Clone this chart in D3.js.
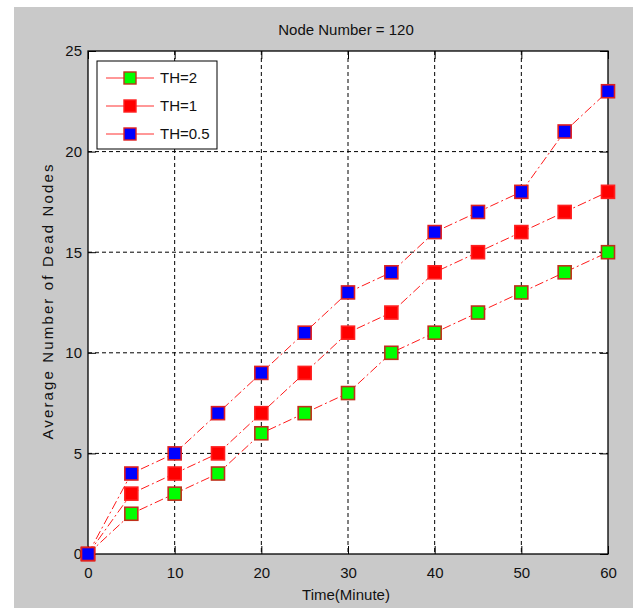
<!DOCTYPE html>
<html lang="en">
  <head>
    <meta charset="UTF-8" />
    <title>Node Number = 120</title>
    <style>
      body {
        margin: 0;
        background: white;
      }
      text {
        font-family: "Liberation Sans", Arial, sans-serif;
        font-size: 15px;
        fill: #111;
      }
      .grid-lines {
        stroke: black;
        stroke-width: 1;
        stroke-dasharray: 4, 3;
      }
      .line-path {
        fill: none;
        stroke: #ff1a1a;
        stroke-width: 1;
        stroke-dasharray: 9, 3, 2, 3;
      }
    </style>
  </head>
  <body>
    <script src="https://d3js.org/d3.v7.min.js"></script>
    <script>
      // data
      const times = [0, 5, 10, 15, 20, 25, 30, 35, 40, 45, 50, 55, 60];
      const th2 = [0, 2, 3, 4, 6, 7, 8, 10, 11, 12, 13, 14, 15];
      const th1 = [0, 3, 4, 5, 7, 9, 11, 12, 14, 15, 16, 17, 18];
      const th05 = [0, 4, 5, 7, 9, 11, 13, 14, 16, 17, 18, 21, 23];
      const seriesNames = ["TH=2", "TH=1", "TH=0.5"];
      const xTicks = [0, 10, 20, 30, 40, 50, 60];
      const yTicks = [0, 5, 10, 15, 20, 25];

      const fills = ["#00ff00", "#ff0000", "#0000ff"];
      const edges = ["#c0301a", "#ff2020", "#e02020"];

      const series = [th2, th1, th05].map((vals, i) => ({
        name: seriesNames[i],
        fill: fills[i],
        edge: edges[i],
        values: vals.map((v, j) => ({ t: times[j], v })),
      }));

      const W = 639;
      const H = 608;
      const plot = { left: 88, right: 608, top: 51, bottom: 554 };

      const svg = d3
        .select("body")
        .append("svg")
        .attr("width", W)
        .attr("height", H);

      // figure background
      svg
        .append("rect")
        .attr("x", 14)
        .attr("y", 7)
        .attr("width", 633 - 14)
        .attr("height", H - 7)
        .attr("fill", "#c9c9c9");

      const xScale = d3
        .scaleLinear()
        .domain([0, 60])
        .range([plot.left, plot.right]);
      const yScale = d3
        .scaleLinear()
        .domain([0, 25])
        .range([plot.bottom, plot.top]);

      svg
        .append("rect")
        .attr("x", plot.left)
        .attr("y", plot.top)
        .attr("width", plot.right - plot.left)
        .attr("height", plot.bottom - plot.top)
        .attr("fill", "white");

      // grid
      const grid = svg.append("g").attr("class", "grid-lines");
      grid
        .selectAll(".gx")
        .data(xTicks.slice(1, -1))
        .join("line")
        .attr("x1", xScale)
        .attr("x2", xScale)
        .attr("y1", plot.top)
        .attr("y2", plot.bottom);
      grid
        .selectAll(".gy")
        .data(yTicks.slice(1, -1))
        .join("line")
        .attr("y1", yScale)
        .attr("y2", yScale)
        .attr("x1", plot.left)
        .attr("x2", plot.right);

      // axes (ticks inward on all four sides)
      const tl = 8;
      svg
        .append("g")
        .attr("transform", `translate(0, ${plot.bottom})`)
        .call(d3.axisBottom(xScale).tickValues(xTicks).tickSize(-tl).tickPadding(13))
        .call((g) => g.select(".domain").remove());
      svg
        .append("g")
        .attr("transform", `translate(0, ${plot.top})`)
        .call(d3.axisTop(xScale).tickValues(xTicks).tickSize(-tl).tickFormat(""))
        .call((g) => g.select(".domain").remove());
      svg
        .append("g")
        .attr("transform", `translate(${plot.left}, 0)`)
        .call(d3.axisLeft(yScale).tickValues(yTicks).tickSize(-tl).tickPadding(6))
        .call((g) => g.select(".domain").remove());
      svg
        .append("g")
        .attr("transform", `translate(${plot.right}, 0)`)
        .call(d3.axisRight(yScale).tickValues(yTicks).tickSize(-tl).tickFormat(""))
        .call((g) => g.select(".domain").remove());

      svg.selectAll(".tick line").attr("stroke", "black");
      svg
        .selectAll(".tick text")
        .attr("font-family", null)
        .attr("font-size", null)
        .style("font-size", "15px");

      svg
        .append("rect")
        .attr("x", plot.left)
        .attr("y", plot.top)
        .attr("width", plot.right - plot.left)
        .attr("height", plot.bottom - plot.top)
        .attr("fill", "none")
        .attr("stroke", "black")
        .attr("stroke-width", 1.3);

      // lines
      const line = d3
        .line()
        .x((d) => xScale(d.t))
        .y((d) => yScale(d.v));

      svg
        .append("g")
        .selectAll("path")
        .data(series)
        .join("path")
        .attr("class", "line-path")
        .attr("d", (d) => line(d.values));

      // markers
      const ms = 13;
      svg
        .append("g")
        .selectAll("g")
        .data(series)
        .join("g")
        .each(function (s) {
          d3.select(this)
            .selectAll("rect")
            .data(s.values)
            .join("rect")
            .attr("x", (d) => xScale(d.t) - ms / 2)
            .attr("y", (d) => yScale(d.v) - ms / 2)
            .attr("width", ms)
            .attr("height", ms)
            .attr("fill", s.fill)
            .attr("stroke", s.edge)
            .attr("stroke-width", 1.6);
        });

      // title and labels
      svg
        .append("text")
        .attr("x", 346)
        .attr("y", 35)
        .attr("text-anchor", "middle")
        .text("Node Number = 120");

      svg
        .append("text")
        .attr("x", 346)
        .attr("y", 600)
        .attr("text-anchor", "middle")
        .text("Time(Minute)");

      svg
        .append("text")
        .attr("transform", "translate(53, 302) rotate(-90)")
        .attr("text-anchor", "middle")
        .attr("textLength", 275)
        .attr("lengthAdjust", "spacing")
        .text("Average Number of Dead Nodes");

      // legend
      const legend = svg.append("g").attr("transform", "translate(97, 61)");
      legend
        .append("rect")
        .attr("width", 120)
        .attr("height", 88)
        .attr("fill", "white")
        .attr("stroke", "black")
        .attr("stroke-width", 1);

      const item = legend
        .selectAll(".item")
        .data(series)
        .join("g")
        .attr("transform", (d, i) => `translate(0, ${17 + i * 28})`);
      item
        .append("line")
        .attr("x1", 9)
        .attr("x2", 57)
        .attr("stroke", "#ff3030")
        .attr("stroke-width", 1);
      item
        .append("rect")
        .attr("x", 33 - 6)
        .attr("y", -6)
        .attr("width", 12)
        .attr("height", 12)
        .attr("fill", (d) => d.fill)
        .attr("stroke", (d) => d.edge)
        .attr("stroke-width", 1.4);
      item
        .append("text")
        .attr("x", 63)
        .attr("dy", "0.36em")
        .text((d) => d.name);
    </script>
  </body>
</html>
